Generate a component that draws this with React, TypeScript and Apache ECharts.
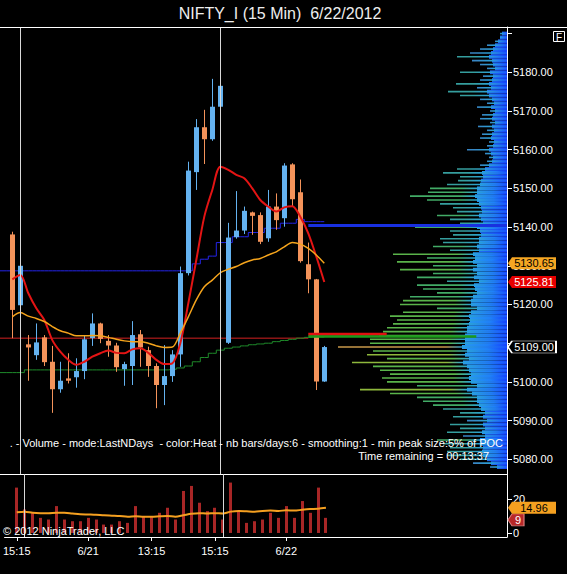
import { useEffect, useRef } from "react";
import * as echarts from "echarts";

// ---------- data ----------
const chartTitle = "NIFTY_I (15 Min)  6/22/2012";
const barIndex = [0,1,2,3,4,5,6,7,8,9,10,11,12,13,14,15,16,17,18,19,20,21,22,23,24,25,26,27,28,29,30,31,32,33,34,35,36,37,38,39];
const opens = [5138.1,5119.8,5109.7,5106.9,5111.5,5105.2,5098.1,5100.9,5101.2,5102.8,5111.3,5115.1,5110.6,5109.4,5103.3,5104.1,5112.3,5108.2,5104.1,5099.2,5101.5,5107.1,5128.1,5154.2,5165.8,5162.7,5171.1,5110.1,5137.4,5139.1,5143.8,5143.1,5137.1,5145.3,5142.3,5156.2,5149.0,5130.4,5126.5,5100.1];
const highs = [5138.8,5130.3,5112.1,5115.1,5112.1,5109.3,5105.2,5107.4,5106.1,5112.1,5117.7,5115.3,5112.1,5110.1,5105.2,5115.7,5113.4,5109.1,5104.8,5109.5,5108.2,5129.8,5156.9,5167.9,5170.3,5178.3,5178.9,5141.1,5149.3,5145.3,5144.0,5143.8,5149.6,5148.7,5156.5,5156.5,5152.3,5136.0,5126.6,5109.3];
const lows = [5111.3,5115.1,5100.3,5105.7,5104.1,5092.0,5097.2,5099.6,5098.5,5100.7,5109.3,5110.0,5106.5,5102.6,5099.0,5099.2,5103.9,5101.3,5093.2,5094.0,5100.0,5103.9,5127.5,5149.6,5156.3,5162.3,5170.9,5109.8,5137.0,5138.2,5138.0,5135.6,5136.2,5139.3,5140.1,5145.3,5130.8,5122.9,5097.9,5100.0];
const closes = [5118.6,5130.0,5108.9,5110.2,5105.1,5098.1,5100.3,5100.3,5102.8,5111.0,5115.1,5111.1,5109.4,5103.8,5104.6,5112.1,5108.9,5104.1,5099.2,5101.5,5107.1,5128.1,5154.6,5165.8,5162.7,5171.1,5176.5,5137.3,5139.1,5144.2,5142.9,5136.2,5145.3,5141.8,5155.9,5147.2,5131.2,5126.5,5100.1,5109.0];
const fastMA = [5126.5,5127.6,5122.9,5119.0,5116.0,5110.8,5107.8,5105.7,5104.4,5105.2,5106.5,5107.4,5108.1,5107.5,5107.4,5108.4,5108.7,5107.5,5105.7,5104.6,5104.8,5110.0,5120.3,5131.5,5142.7,5149.6,5155.6,5154.8,5153.5,5152.6,5150.0,5147.0,5145.3,5144.0,5145.1,5145.4,5142.7,5138.4,5132.4,5125.81];
const slowMA = [5116.8,5117.9,5117.0,5116.4,5115.6,5114.3,5113.2,5112.6,5111.9,5111.9,5112.0,5111.9,5111.5,5111.0,5110.6,5110.4,5110.4,5110.0,5109.3,5108.9,5109.0,5112.6,5116.8,5121.2,5124.6,5126.3,5128.2,5129.1,5129.8,5130.8,5131.5,5131.9,5132.8,5133.6,5134.9,5136.0,5135.6,5134.5,5132.8,5130.65];
const upperLevel = [5128.7,5128.7,5128.7,5128.7,5128.7,5128.7,5128.7,5128.7,5128.7,5128.7,5128.7,5128.7,5128.7,5128.7,5128.7,5128.7,5128.7,5128.7,5128.7,5128.7,5128.7,5128.7,5128.7,5130.5,5131.7,5132.5,5136.0,5136.0,5137.5,5137.5,5138.6,5138.6,5139.7,5139.7,5141.0,5141.0,5142.0,5141.4,5141.4,5141.4];
const lowerLevel = [5102.4,5102.4,5103.1,5103.1,5103.1,5103.1,5103.1,5103.1,5103.1,5103.1,5103.1,5103.1,5103.1,5103.1,5103.1,5103.1,5103.1,5103.1,5103.1,5103.1,5103.25,5103.6,5104.1,5105.2,5106.3,5107.4,5108.2,5108.7,5109.0,5109.3,5109.6,5109.8,5110.0,5110.4,5110.7,5111.0,5111.3,5111.5,5111.6,5111.6];
const volumes = [27,14,12,9,8,16,8,7,7,9,8,5,5,7,6,16,10,10,12,15,8,25,28,18,13,15,8,30,13,6,7,8,12,9,16,9,19,12,27,9];
const volumeMA = [12.3,12.7,12.0,11.8,11.8,12.0,12.0,11.6,11.2,11.0,10.8,10.5,10.3,10.1,9.7,9.9,9.7,9.7,9.9,10.1,9.7,10.5,11.4,11.8,11.6,11.8,11.6,12.7,13.1,12.9,12.7,13.1,13.3,13.1,13.5,13.3,13.8,14.2,14.4,14.96];
const sessionEndBars = [1, 26];
const priorPoc = 5111.3;
const pocStartBar = 37;
const pocRed = [[37, 5112.3], [46.8, 5112.3]];
const pocGreen = [[37, 5111.7], [58, 5111.7]];
const pocBluePrice = 5140.4;
const xTickBars = [0, 9, 17, 25, 34];
const xTickLabels = ["15:15", "6/21", "13:15", "15:15", "6/22"];
const priceTicks = [5080, 5090, 5100, 5120, 5130, 5140, 5150, 5160, 5170, 5180];
const priceTickMarks = [5080, 5090, 5100, 5110, 5120, 5130, 5140, 5150, 5160, 5170, 5180, 5190];
const volumeTicks = [0, 20];
const lastPrice = 5109.0;
const lastVolume = 9;
const profilePrices = [5190,5189,5188,5187,5186,5185,5184,5183,5182,5181,5180,5179,5178,5177,5176,5175,5174,5173,5172,5171,5170,5169,5168,5167,5166,5165,5164,5163,5162,5161,5160,5159,5158,5157,5156,5155,5154,5153,5152,5151,5150,5149,5148,5147,5146,5145,5144,5143,5142,5141,5140,5139,5138,5137,5136,5135,5134,5133,5132,5131,5130,5129,5128,5127,5126,5125,5124,5123,5122,5121,5120,5119,5118,5117,5116,5115,5114,5113,5112,5111,5110,5109,5108,5107,5106,5105,5104,5103,5102,5101,5100,5099,5098,5097,5096,5095,5094,5093,5092,5091,5090,5089,5088,5087,5086,5085,5084,5083,5082,5081,5080,5079,5078];
const profileVolume = [7,7,12,20,27,37,50,35,27,20,47,24,27,51,30,59,47,27,20,30,17,25,27,17,29,20,25,27,18,20,40,22,18,20,27,50,64,47,49,60,77,79,97,80,67,54,50,70,57,47,92,57,54,67,64,74,57,114,80,110,74,107,74,90,60,90,84,70,97,104,107,70,104,117,110,114,120,124,128,137,137,169,134,140,120,155,134,127,117,125,120,90,147,117,90,84,74,64,47,54,40,57,47,60,44,70,64,57,60,60,47,34,17];
const profileCore = [5,7,9,12,14,16,18,15,14,12,17,14,15,18,16,20,18,15,13,16,12,14,15,12,15,13,15,16,13,14,18,16,14,15,18,22,25,24,26,27,30,30,32,30,28,26,25,28,26,24,30,27,26,28,28,30,28,34,32,34,30,34,30,33,28,33,32,30,34,36,36,30,36,38,37,38,40,40,42,42,42,45,40,42,38,44,40,38,36,38,36,30,40,35,30,30,28,26,22,24,20,24,22,25,22,27,26,24,25,24,20,16,10];

// ---------- layout / style ----------
const FONT = "'Liberation Sans', Arial, sans-serif";
const XMIN = -1.54;
const XMAX = 61.84;
const PRICE_MIN = 5076.2;
const PRICE_MAX = 5191.7;
const VOL_MIN = -2.4;
const VOL_MAX = 35.1;
const PLOT_W = 507;
const UP = "#64b2f0";
const DOWN = "#f4935a";

function heatColor(v: number) {
  if (v >= 160) return "#c8984a";
  if (v >= 140) return "#8eb83c";
  if (v >= 100) return "#5ab44a";
  if (v >= 70) return "#42ab66";
  if (v >= 45) return "#359e9e";
  return "#3886c4";
}

function tag(coord: number[], text: string, fill: string, textColor: string, border: string | null, w = 48, dy = 0) {
  return {
    coord,
    symbol: `path://M0,6 L4,0 L${w},0 L${w},12 L4,12 Z`,
    symbolSize: [w, 12],
    symbolKeepAspect: false,
    symbolOffset: [w / 2 + 1, dy],
    itemStyle: { color: fill, borderColor: border || fill, borderWidth: border ? 1 : 0 },
    label: {
      show: true,
      position: "inside",
      formatter: text,
      color: textColor,
      fontSize: 11,
      fontFamily: FONT,
      offset: [2, 0],
    },
  };
}

const candleRender = (_p: any, api: any) => {
  const x = api.value(0);
  const o = api.value(1), c = api.value(2), l = api.value(3), h = api.value(4);
  const color = c >= o ? UP : DOWN;
  const pTop = api.coord([x, Math.max(o, c)]);
  const pBot = api.coord([x, Math.min(o, c)]);
  const pH = api.coord([x, h]);
  const pL = api.coord([x, l]);
  const cx = Math.floor(pTop[0]) + 0.5;
  const bw = 5;
  return {
    type: "group",
    children: [
      { type: "line", shape: { x1: cx, y1: pH[1], x2: cx, y2: pL[1] }, style: { stroke: color, lineWidth: 1 } },
      {
        type: "rect",
        shape: { x: cx - bw / 2, y: pTop[1], width: bw, height: Math.max(1, pBot[1] - pTop[1]) },
        style: { fill: color },
      },
    ],
  };
};

const volumeRender = (_p: any, api: any) => {
  const x = api.value(0), v = api.value(1);
  const p0 = api.coord([x, 0]);
  const p1 = api.coord([x, v]);
  const cx = Math.floor(p0[0]) + 0.5;
  return {
    type: "rect",
    shape: { x: cx - 1.5, y: p1[1], width: 3, height: p0[1] - p1[1] },
    style: { fill: "#a82626" },
  };
};

const profileRender = (_p: any, api: any) => {
  const vol = api.value(0), price = api.value(1), core = api.value(2);
  const pEnd = api.coord([0, price]);
  const pTip = api.coord([vol, price]);
  const pCore = api.coord([core, price]);
  const h = api.size([0, 1])[1];
  const len = Math.max(1, pEnd[0] - pTip[0]);
  const coreLen = Math.max(0, pEnd[0] - pCore[0]);
  const t2 = Math.max(0, Math.min(1, (len - coreLen) / len));
  const t1 = Math.max(0, t2 - 16 / len);
  const tip = heatColor(vol);
  return {
    type: "group",
    children: [
      {
        type: "rect",
        shape: { x: pCore[0], y: pEnd[1] - h / 2, width: coreLen, height: h },
        style: {
          fill: new echarts.graphic.LinearGradient(0, 0, 1, 0, [
            { offset: 0, color: vol >= 60 ? "#2698ee" : "#206cf0" },
            { offset: 0.55, color: vol >= 60 ? "#1f80f8" : "#1a58f8" },
            { offset: 1, color: "#1440ff" },
          ]),
        },
      },
      {
        type: "rect",
        shape: { x: pTip[0], y: pEnd[1] - 0.8, width: len, height: 1.6 },
        style: {
          fill: new echarts.graphic.LinearGradient(0, 0, 1, 0, [
            { offset: 0, color: tip },
            { offset: t1, color: tip },
            { offset: t2, color: "#2aa2d6" },
            { offset: 1, color: "#1a58ff" },
          ]),
        },
      },
    ],
  };
};

const sessionLines = sessionEndBars.map((b) => ({
  xAxis: b,
  lineStyle: { color: "#d8d8d8", width: 1, type: "solid" },
}));

export default function App() {
  const ref = useRef<HTMLDivElement>(null);

  useEffect(() => {
    if (!ref.current) return;
    const chart = echarts.init(ref.current, undefined, { renderer: "svg" });

    const candleData = barIndex.map((b, i) => [b, opens[i], closes[i], lows[i], highs[i]]);
    const upperData = [[XMIN, upperLevel[0]], ...barIndex.map((b, i) => [b, upperLevel[i]])];
    const lowerData = [[XMIN, lowerLevel[0]], ...barIndex.map((b, i) => [b, lowerLevel[i]])];
    const profileData = profilePrices.map((p, i) => [profileVolume[i], p, profileCore[i]]);

    const axisLine = { show: true, onZero: false, lineStyle: { color: "#ffffff", width: 1 } };

    chart.setOption({
      animation: false,
      backgroundColor: "#000000",
      textStyle: { fontFamily: FONT },
      grid: [
        { left: 0, top: 27, width: PLOT_W, height: 447 },
        { left: 0, top: 474, width: PLOT_W, height: 63 },
      ],
      xAxis: [
        {
          type: "value", gridIndex: 0, min: XMIN, max: XMAX,
          axisLine, axisTick: { show: false }, axisLabel: { show: false }, splitLine: { show: false },
        },
        {
          type: "value", gridIndex: 0, min: 0, max: PLOT_W, inverse: true, show: false,
          splitLine: { show: false },
        },
        {
          type: "value", gridIndex: 1, min: XMIN, max: XMAX,
          axisLine,
          axisTick: { show: true, customValues: xTickBars, length: 4, lineStyle: { color: "#ffffff" } },
          axisLabel: {
            show: true, customValues: xTickBars, color: "#ffffff", fontSize: 11, margin: 8,
            formatter: (v: number) => {
              const i = xTickBars.indexOf(v);
              return i >= 0 ? xTickLabels[i] : "";
            },
          },
          splitLine: { show: false },
        },
      ],
      yAxis: [
        {
          type: "value", gridIndex: 0, position: "right", min: PRICE_MIN, max: PRICE_MAX,
          axisLine,
          axisTick: { show: true, customValues: priceTickMarks, length: 5, lineStyle: { color: "#ffffff" } },
          axisLabel: {
            show: true, customValues: priceTicks, color: "#ffffff", fontSize: 11, margin: 6,
            formatter: (v: number) => v.toFixed(2),
          },
          splitLine: { show: false },
        },
        {
          type: "value", gridIndex: 1, position: "right", min: VOL_MIN, max: VOL_MAX,
          axisLine,
          axisTick: { show: true, customValues: volumeTicks, length: 5, lineStyle: { color: "#ffffff" } },
          axisLabel: {
            show: true, customValues: volumeTicks, color: "#ffffff", fontSize: 11, margin: 6,
            formatter: (v: number) => String(v),
          },
          splitLine: { show: false },
        },
      ],
      series: [
        {
          type: "custom", name: "profile", xAxisIndex: 1, yAxisIndex: 0,
          renderItem: profileRender, data: profileData, encode: { x: 0, y: 1 }, z: 1, silent: true,
        },
        {
          type: "line", name: "priorPoc", xAxisIndex: 0, yAxisIndex: 0,
          data: [[XMIN, priorPoc], [pocStartBar, priorPoc]], symbol: "none",
          lineStyle: { color: "#d42020", width: 1 }, z: 2, silent: true,
        },
        {
          type: "line", name: "upper", xAxisIndex: 0, yAxisIndex: 0, data: upperData, step: "middle",
          symbol: "none", lineStyle: { color: "#2424e8", width: 1 }, z: 2, silent: true,
        },
        {
          type: "line", name: "lower", xAxisIndex: 0, yAxisIndex: 0, data: lowerData, step: "middle",
          symbol: "none", lineStyle: { color: "#1e8a2a", width: 1 }, z: 2, silent: true,
        },
        {
          type: "custom", name: "price", xAxisIndex: 0, yAxisIndex: 0,
          renderItem: candleRender, data: candleData, encode: { x: 0, y: [1, 2, 3, 4] }, z: 3, silent: true,
          markPoint: {
            silent: true,
            data: [tag([XMAX, lastPrice], lastPrice.toFixed(2), "#000000", "#ffffff", "#ffffff")],
          },
        },
        {
          type: "line", name: "fast", xAxisIndex: 0, yAxisIndex: 0,
          data: barIndex.map((b, i) => [b, fastMA[i]]), smooth: 0.3, symbol: "none",
          lineStyle: { color: "#e41414", width: 2 }, z: 4, silent: true,
          markLine: { silent: true, symbol: "none", label: { show: false }, data: sessionLines },
          markPoint: {
            silent: true,
            data: [tag([XMAX, fastMA[fastMA.length - 1]], fastMA[fastMA.length - 1].toFixed(2), "#e60000", "#ffffff", null)],
          },
        },
        {
          type: "line", name: "slow", xAxisIndex: 0, yAxisIndex: 0,
          data: barIndex.map((b, i) => [b, slowMA[i]]), smooth: 0.3, symbol: "none",
          lineStyle: { color: "#f5a41c", width: 1.5 }, z: 4, silent: true,
          markPoint: {
            silent: true,
            data: [tag([XMAX, slowMA[slowMA.length - 1]], slowMA[slowMA.length - 1].toFixed(2), "#f5a623", "#000000", null)],
          },
        },
        {
          type: "line", name: "pocRed", xAxisIndex: 0, yAxisIndex: 0, data: pocRed, symbol: "none",
          lineStyle: { color: "#e01010", width: 3 }, z: 6, silent: true,
        },
        {
          type: "line", name: "pocGreen", xAxisIndex: 0, yAxisIndex: 0, data: pocGreen, symbol: "none",
          lineStyle: { color: "#1c9a1c", width: 2.5 }, z: 6, silent: true,
        },
        {
          type: "line", name: "pocBlue", xAxisIndex: 0, yAxisIndex: 0,
          data: [[pocStartBar, pocBluePrice], [XMAX, pocBluePrice]], symbol: "none",
          lineStyle: { color: "#1830e0", width: 3 }, z: 6, silent: true,
        },
        {
          type: "custom", name: "volume", xAxisIndex: 2, yAxisIndex: 1,
          renderItem: volumeRender, data: barIndex.map((b, i) => [b, volumes[i]]), encode: { x: 0, y: 1 },
          z: 3, silent: true,
          markPoint: {
            silent: true,
            data: [tag([XMAX, lastVolume], String(lastVolume), "#b82828", "#ffffff", "#e08080", 16, 2)],
          },
        },
        {
          type: "line", name: "volumeMA", xAxisIndex: 2, yAxisIndex: 1,
          data: barIndex.map((b, i) => [b, volumeMA[i]]), smooth: 0.3, symbol: "none",
          lineStyle: { color: "#f5a020", width: 2 }, z: 4, silent: true,
          markLine: { silent: true, symbol: "none", label: { show: false }, data: sessionLines },
          markPoint: {
            silent: true,
            data: [tag([XMAX, volumeMA[volumeMA.length - 1]], volumeMA[volumeMA.length - 1].toFixed(2), "#f5a020", "#000000", null)],
          },
        },
      ],
      graphic: [
        {
          type: "text", x: 280, y: 13, z: 100,
          style: { text: chartTitle, fill: "#eeeeee", fontSize: 16, fontFamily: FONT, align: "center", verticalAlign: "middle" },
        },
        {
          type: "line", z: 100,
          shape: { x1: 0, y1: 27.5, x2: 567, y2: 27.5 },
          style: { stroke: "#ffffff", lineWidth: 1 },
        },
        {
          type: "rect", z: 100,
          shape: { x: 553.5, y: 31.5, width: 11, height: 10 },
          style: { fill: "#000000", stroke: "#ffffff", lineWidth: 1 },
        },
        {
          type: "text", x: 559, y: 37, z: 101,
          style: { text: "F", fill: "#ffffff", fontSize: 10, fontFamily: FONT, align: "center", verticalAlign: "middle" },
        },
        {
          type: "text", x: 503, y: 443, z: 100,
          style: {
            text: ". - Volume - mode:LastNDays  - color:Heat - nb bars/days:6 - smoothing:1 - min peak size:5% of POC",
            fill: "#ffffff", fontSize: 11, fontFamily: FONT, align: "right", verticalAlign: "middle",
          },
        },
        {
          type: "text", x: 489, y: 456, z: 100,
          style: { text: "Time remaining = 00:13:37", fill: "#ffffff", fontSize: 11, fontFamily: FONT, align: "right", verticalAlign: "middle" },
        },
        {
          type: "text", x: 3, y: 531, z: 100,
          style: { text: "© 2012 NinjaTrader, LLC", fill: "#ffffff", fontSize: 11, fontFamily: FONT, align: "left", verticalAlign: "middle" },
        },
      ],
    });

    return () => chart.dispose();
  }, []);

  return (
    <div
      ref={ref}
      style={{ position: "absolute", left: 0, top: 0, width: 567, height: 574, background: "#000000" }}
    />
  );
}
